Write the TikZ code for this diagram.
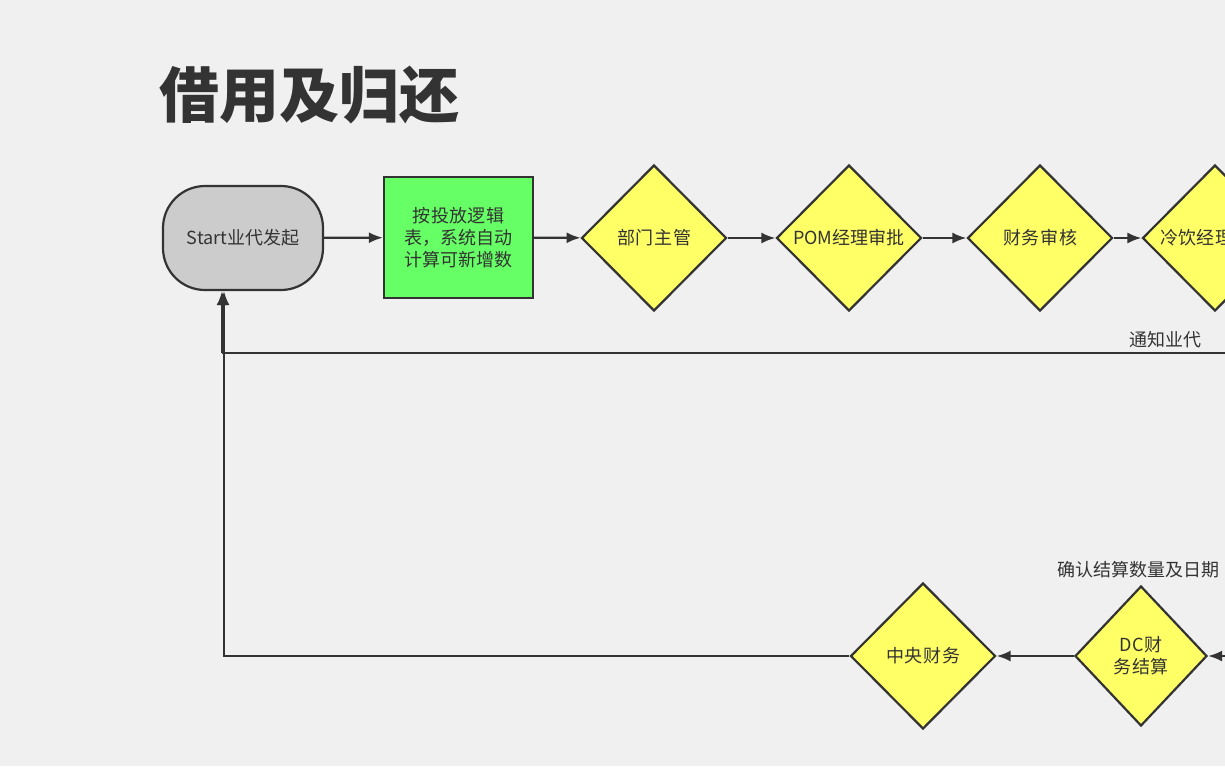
\documentclass[tikz,border=0pt]{standalone}
\usepackage{fontspec}
\setmainfont{Noto Sans CJK SC}
\XeTeXlinebreaklocale "zh"
\XeTeXlinebreakskip=0pt plus 1pt
\usetikzlibrary{shapes.geometric,arrows.meta}
\definecolor{bg}{HTML}{F0F0F0}
\definecolor{ink}{HTML}{333333}
\definecolor{startgray}{HTML}{CCCCCC}
\definecolor{boxgreen}{HTML}{66FF66}
\definecolor{decyellow}{HTML}{FFFF66}
\tikzset{
  flow/.style={draw=ink,line width=2.2pt,text=ink,font=\fontsize{18}{22}\selectfont,align=center},
  dec/.style={flow,diamond,fill=decyellow,minimum width=145pt,minimum height=146pt,inner sep=0pt,text width=122pt},
  conn/.style={draw=ink,line width=2.2pt,-{Latex[length=14pt,width=11pt]}},
}
\begin{document}
\begin{tikzpicture}[x=1pt,y=-1pt]
\fill[bg] (0,0) rectangle (1225,766);
\useasboundingbox (0,0) rectangle (1225,766);
\clip (0,0) rectangle (1225,766);
\node[anchor=west,text=ink,font=\fontsize{60}{70}\selectfont\bfseries] (title) at (156,95) {借用及归还};
% top row
\node[flow,fill=boxgreen,minimum width=149pt,minimum height=121pt,text width=114pt,inner sep=0pt] (calc) at (458.5,237.5) {按投放逻辑表，系统自动计算可新增数};
\node[flow,fill=startgray,rounded corners=42pt,minimum width=160pt,minimum height=104pt] (start) at (243,238) {Start业代发起};
\node[dec] (dept) at (654,238) {部门主管};
\node[dec] (pom) at (849,238) {POM经理审批};
\node[dec] (fin) at (1040,238) {财务审核};
\node[dec] (cold) at (1215,238) {冷饮经理审批};
\draw[conn] (start) -- (calc);
\draw[conn] (calc) -- (dept);
\draw[conn] (dept) -- (pom);
\draw[conn] (pom) -- (fin);
\draw[conn] (fin) -- (cold);
% notify loop
\coordinate (notifyR) at (1230,353);
\coordinate (notifyL) at (222,353);
\draw[draw=ink,line width=2.2pt] (notifyR) -- (notifyL);
\draw[conn] (notifyL) -- (start.south -| notifyL);
\node[text=ink,font=\fontsize{18}{22}\selectfont] (notify) at (1165,340) {通知业代};
% bottom row
\node[dec] (central) at (923,656) {中央财务};
\node[dec,minimum width=132pt,minimum height=140pt,text width=86pt] (dc) at (1141,656) {DC财务结算};
\node[text=ink,font=\fontsize{18}{22}\selectfont,anchor=west] (confirm) at (1054,570) {确认结算数量及日期};
\coordinate (inR) at (1240,656);
\draw[conn] (inR) -- (dc);
\draw[conn] (dc) -- (central);
\coordinate (corner) at (224,656);
\draw[conn] (central) -- (corner) -- (corner |- start.south);
\end{tikzpicture}
\end{document}
